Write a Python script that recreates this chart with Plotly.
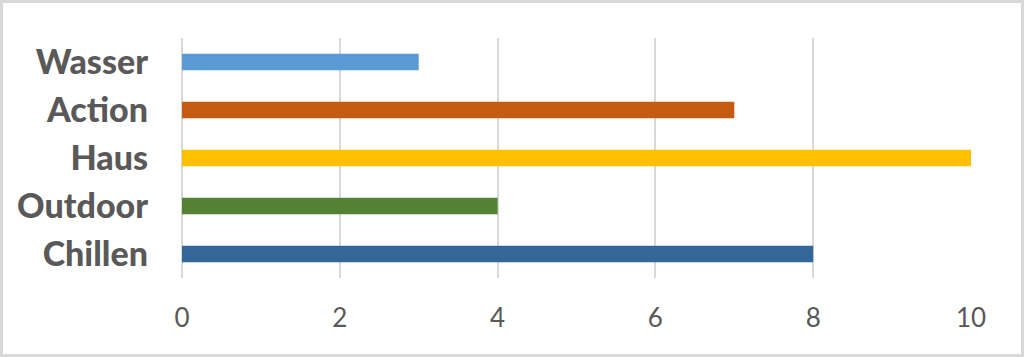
import plotly.graph_objects as go

categories = ["Chillen", "Outdoor", "Haus", "Action", "Wasser"]
values = [8, 4, 10, 7, 3]
colors = ["#336699", "#548235", "#FFC000", "#C55A11", "#5B9BD5"]
x_ticks = [0, 2, 4, 6, 8, 10]

W, H = 1024, 357
ml, mr, mt, mb = 182, 53, 38, 79
pw, ph = W - ml - mr, H - mt - mb

fig = go.Figure(go.Bar(
    y=categories, x=values, orientation="h",
    marker=dict(color=colors, line=dict(width=0)),
    width=0.34, hoverinfo="x+y",
))

fig.update_layout(
    width=W, height=H,
    margin=dict(l=ml, r=mr, t=mt, b=mb),
    paper_bgcolor="white", plot_bgcolor="white",
    showlegend=False,
    xaxis=dict(range=[0, 10], tickvals=x_ticks, showgrid=True, gridcolor="#d9d9d9", gridwidth=1.5,
               zeroline=True, zerolinecolor="#d9d9d9", zerolinewidth=1.5, showline=False, ticks="",
               tickfont=dict(family="Lato, Open Sans, sans-serif", size=26, color="#595959"),
               ticklabelstandoff=22, fixedrange=True),
    yaxis=dict(categoryorder="array", categoryarray=categories, showgrid=False, zeroline=False,
               showline=False, ticks="",
               tickfont=dict(family="Lato, sans-serif", size=34, color="#595959", weight=900),
               ticklabelstandoff=33, fixedrange=True),
    shapes=[dict(type="rect", xref="paper", yref="paper",
                 x0=(1.5 - ml) / pw, x1=(W - 1.5 - ml) / pw,
                 y0=-(mb - 1.5) / ph, y1=1 + (mt - 1.5) / ph,
                 line=dict(color="#d9d9d9", width=3), layer="below")],
)

fig.write_html("out.html", config={"displayModeBar": False},
               post_script="document.body.style.margin='0';document.body.style.overflow='hidden';")
